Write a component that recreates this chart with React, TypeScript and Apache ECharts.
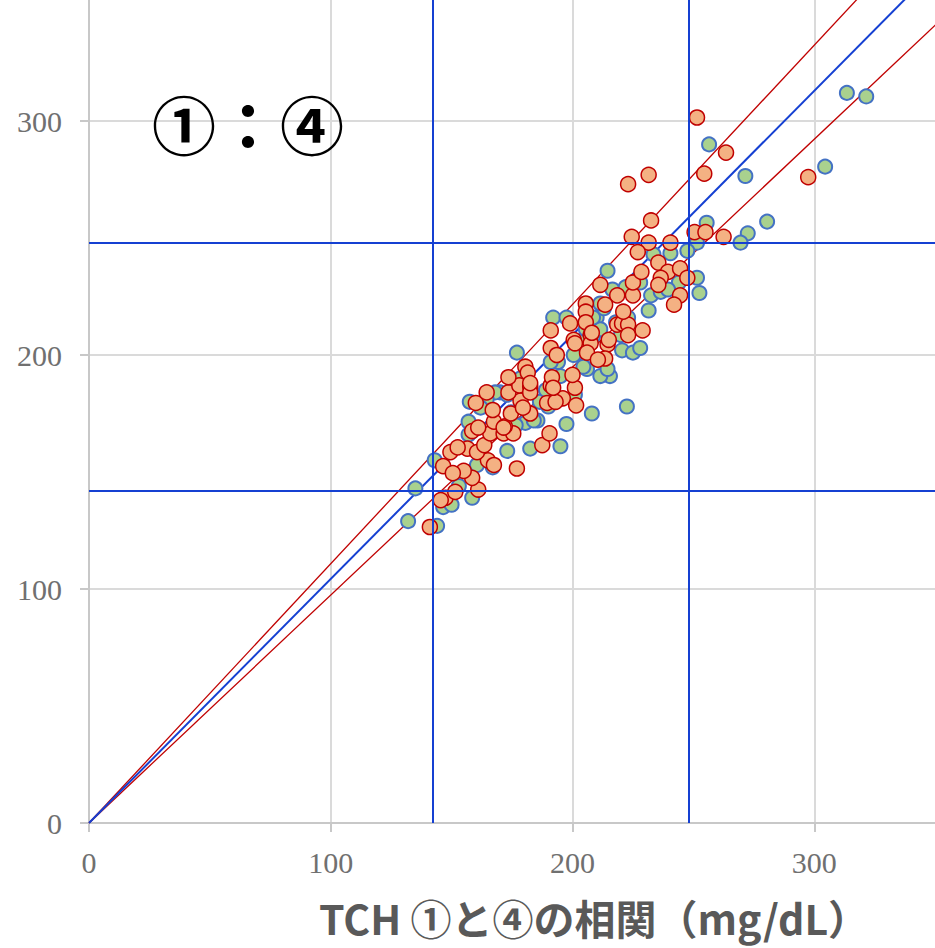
import React, { useEffect, useRef } from "react";
import * as echarts from "echarts";

const axisTicks = [0, 100, 200, 300];
const refLevels = [142, 248];
const diagSlopesRed = [1.108, 0.974];
const diagSlopeBlue = 1.043;
const titleText = "TCH ①と④の相関（mg/dL）";
const panelText = "①：④";

const greenPoints: [number, number][] = [
  [132, 129], [135, 143], [143, 155], [144, 127], [146.5, 135], [150, 136], [153, 144], [158.5, 139],
  [160.5, 153], [167, 152], [173, 159], [182.5, 160], [195, 161], [197.5, 170.5], [157, 171.5], [157, 166],
  [170, 184], [208, 175], [185.5, 172], [180.5, 171], [190, 178], [177, 201], [192, 216], [197.5, 216],
  [214.5, 236], [222.5, 178], [210, 216], [216.5, 228], [222, 229], [213, 220], [220.5, 202], [225, 201],
  [228, 203], [215.5, 191], [211.5, 191], [206, 194], [194, 197], [191, 197], [157.5, 180], [173, 183],
  [168, 184], [184, 172], [176.5, 170], [186.5, 180], [204.5, 195], [200.5, 200], [195, 191], [208.5, 208],
  [211.5, 211], [214.5, 194], [203.5, 206], [251.5, 248], [255.5, 256.5], [272.5, 252], [269.5, 248],
  [247.5, 244.5], [233.5, 243], [240.5, 243.5], [251.5, 233], [252.5, 226.5], [231.5, 219], [232.5, 225.5],
  [244, 231], [228, 231], [208.5, 216], [211.5, 222], [256.5, 290], [271.5, 276.5], [304.5, 280.5],
  [280.5, 257], [313.5, 312], [321.5, 310.5], [182.5, 187], [189, 185], [178.5, 190], [164.5, 181],
  [162, 177.5], [174.5, 175.5], [193, 181], [201, 183], [220, 208.5], [205.5, 211], [223, 216], [218, 214],
  [236.5, 227], [239.5, 228],
];

const orangePoints: [number, number][] = [
  [141, 126.5], [147.5, 139], [145.5, 138], [151.5, 141.5], [161, 142.5], [158.5, 147.5], [155, 150.5],
  [146.5, 152.5], [150.5, 149.5], [177, 151.5], [165, 155], [167.5, 153], [149.5, 158.5], [156.5, 160],
  [152.5, 160.5], [160.5, 158.5], [163.5, 161.5], [187.5, 161.5], [190.5, 166.5], [158.5, 167.5],
  [166, 166.5], [171.5, 166.5], [175.5, 166.5], [161, 169], [167.5, 171.5], [172, 169.5], [167, 176.5],
  [160, 179.5], [164.5, 184], [174.5, 175], [182.5, 175], [178.5, 180.5], [179.5, 177.5], [173.5, 184],
  [178, 187], [182.5, 186.5], [182.5, 184], [189.5, 179.5], [196, 181.5], [201, 186], [201.5, 178.5],
  [191, 187], [193, 180], [211.5, 230], [218.5, 225.5], [225, 225.5], [225, 231], [213.5, 221.5],
  [205.5, 222], [205.5, 218.5], [205.5, 214], [199, 213.5], [191, 210.5], [218.5, 213], [220.5, 213.5],
  [223, 213], [223, 208.5], [200.5, 206.5], [201, 205], [207.5, 208.5], [207.5, 205], [206, 201],
  [214.5, 204.5], [215, 206.5], [213.5, 198.5], [210.5, 198], [191, 203], [193.5, 200], [180.5, 195],
  [173.5, 190.5], [181.5, 192.5], [182.5, 188], [191.5, 190.5], [192, 186], [200, 191.5], [171.5, 169],
  [223, 273], [231.5, 277], [232.5, 257.5], [224.5, 250.5], [231.5, 248], [240.5, 248], [250.5, 252.5],
  [255, 252.5], [262.5, 250.5], [227, 244], [235.5, 239.5], [228.5, 235.5], [239.5, 235.5], [244.5, 237],
  [247.5, 233], [236.5, 233], [235.5, 230], [244.5, 225.5], [242, 221.5], [221, 218.5], [229, 210.5],
  [208, 209.5], [251.5, 301.5], [263.5, 286.5], [254.5, 277.5], [297.5, 276],
];

const AXIS_MAX = 400;
const BLUE = "#1540d2";
const RED = "#c00000";

function makeAxis() {
  return {
    type: "value",
    min: 0,
    max: AXIS_MAX,
    interval: 100,
    axisLine: { show: true, onZero: false, lineStyle: { color: "#c8c8c8", width: 2 } },
    axisTick: { show: true, length: 9, lineStyle: { color: "#c8c8c8", width: 2 } },
    splitLine: { show: true, lineStyle: { color: "#dadada", width: 2 } },
    axisLabel: {
      color: "#707070",
      fontFamily: "Liberation Serif",
      fontSize: 30,
      formatter: (v: number) => (axisTicks.includes(v) ? String(v) : ""),
    },
  };
}

export default function App() {
  const ref = useRef<HTMLDivElement>(null);
  useEffect(() => {
    if (!ref.current) return;
    const chart = echarts.init(ref.current, null, { renderer: "svg" });
    const xAxis: any = makeAxis();
    xAxis.axisLabel.margin = 24;
    const yAxis: any = makeAxis();
    yAxis.axisLabel.margin = 27;
    chart.setOption({
      animation: false,
      backgroundColor: "#ffffff",
      grid: { left: 89, right: -121, top: -113, bottom: 125, containLabel: false, outerBoundsMode: "none" },
      xAxis,
      yAxis,
      graphic: [
        {
          type: "text",
          x: 248,
          y: 122,
          z: 100,
          style: {
            text: panelText,
            fill: "#000000",
            font: "bold 64px 'Noto Sans CJK JP'",
            textAlign: "center",
            textVerticalAlign: "middle",
            align: "center",
            verticalAlign: "middle",
          },
        },
        {
          type: "text",
          x: 594,
          y: 917,
          z: 100,
          style: {
            text: titleText,
            fill: "#595959",
            font: "bold 41px 'Noto Sans CJK JP'",
            textAlign: "center",
            textVerticalAlign: "middle",
            align: "center",
            verticalAlign: "middle",
          },
        },
      ],
      series: [
        {
          type: "line",
          data: [],
          z: 1,
          silent: true,
          markLine: {
            silent: true,
            symbol: "none",
            label: { show: false },
            lineStyle: { color: BLUE, width: 2, type: "solid" },
            data: [
              ...refLevels.map((v) => ({ xAxis: v })),
              ...refLevels.map((v) => ({ yAxis: v })),
            ],
          },
        },
        ...diagSlopesRed.map((s) => ({
          type: "line",
          data: [[0, 0], [AXIS_MAX, AXIS_MAX * s]],
          showSymbol: false,
          silent: true,
          z: 2,
          lineStyle: { color: RED, width: 1.3 },
        })),
        {
          type: "line",
          data: [[0, 0], [AXIS_MAX, AXIS_MAX * diagSlopeBlue]],
          showSymbol: false,
          silent: true,
          z: 2,
          lineStyle: { color: BLUE, width: 2 },
        },
        {
          type: "scatter",
          data: greenPoints,
          symbolSize: 14,
          z: 3,
          itemStyle: { color: "#a9d18e", borderColor: "#4472c4", borderWidth: 2, opacity: 1 },
        },
        {
          type: "scatter",
          data: orangePoints,
          symbolSize: 15,
          z: 4,
          itemStyle: { color: "#f4b183", borderColor: RED, borderWidth: 1.5, opacity: 1 },
        },
      ],
    });
    return () => chart.dispose();
  }, []);
  return (
    <div
      ref={ref}
      style={{ position: "fixed", left: 0, top: 0, width: 935, height: 948, background: "#fff" }}
    />
  );
}
